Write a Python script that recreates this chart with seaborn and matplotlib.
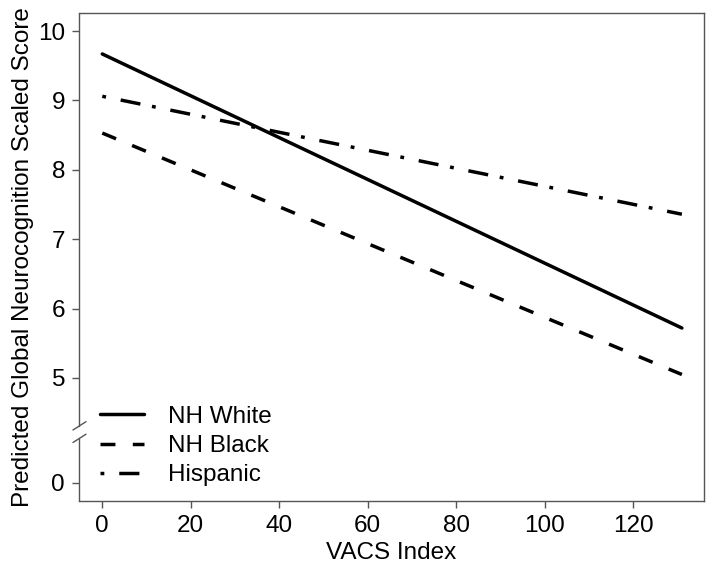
import matplotlib
matplotlib.use("Agg")
import matplotlib.pyplot as plt
import pandas as pd
import seaborn as sns

# Predicted values at the ends of the VACS Index range
vacs = [0, 131]
nh_white = [9.67, 5.72]
nh_black = [8.53, 5.05]
hispanic = [9.06, 7.36]
groups = ["NH White", "NH Black", "Hispanic"]

df = pd.DataFrame({
    "VACS Index": vacs * 3,
    "score": nh_white + nh_black + hispanic,
    "group": [g for g in groups for _ in vacs],
})

sns.set_style("ticks")
plt.rcParams["font.family"] = ["Liberation Sans", "DejaVu Sans"]
plt.rcParams["text.color"] = "black"
plt.rcParams["axes.labelcolor"] = "black"

fig = plt.figure(figsize=(7.14, 5.71), dpi=100)
ax = fig.add_axes([0.1106, 0.1226, 0.8754, 0.8546])

dashes = {"NH White": "", "NH Black": (4.3, 5), "Hispanic": (1.1, 4.3, 5.8, 3.4)}
sns.lineplot(data=df, x="VACS Index", y="score", hue="group", style="group",
             palette=["black"] * 3, dashes=dashes, linewidth=2.5, ax=ax)

# broken y axis: 0 is drawn below the break
zero_pos = 3.487
ax.set_ylim(3.227, 10.26)
ax.set_xlim(-5.27, 136.0)
ax.set_yticks([zero_pos, 5, 6, 7, 8, 9, 10])
ax.set_yticklabels(["0", "5", "6", "7", "8", "9", "10"])
ax.set_xticks([0, 20, 40, 60, 80, 100, 120])

spine_col = "#555555"
for s in ["top", "right", "bottom"]:
    ax.spines[s].set_color(spine_col)
    ax.spines[s].set_linewidth(1.0)
ax.spines["left"].set_visible(False)
ax.tick_params(axis="both", colors=spine_col, labelcolor="black", labelsize=17.5,
               length=5, width=1.0, pad=5)

tr = ax.get_yaxis_transform()
ax.plot([0, 0], [3.227, 4.14], color=spine_col, lw=1.0, transform=tr, clip_on=False)
ax.plot([0, 0], [4.31, 10.26], color=spine_col, lw=1.0, transform=tr, clip_on=False)
ax.plot([-0.0096, 0.0112], [4.25, 4.37], color=spine_col, lw=1.0, transform=tr, clip_on=False)
ax.plot([-0.0096, 0.0112], [4.07, 4.19], color=spine_col, lw=1.0, transform=tr, clip_on=False)

ax.set_xlabel("VACS Index", fontsize=17.5, labelpad=4)
ax.set_ylabel("Predicted Global Neurocognition Scaled Score", fontsize=17.5, labelpad=2.5)

handles, labels = ax.get_legend_handles_labels()
ax.legend(handles=handles, labels=labels, loc="lower left", bbox_to_anchor=(0.034, 0.03),
          frameon=False, fontsize=17.5, handlelength=1.8, handletextpad=1.0,
          labelspacing=0.3, borderpad=0, borderaxespad=0)

fig.savefig("out.png", dpi=100)
